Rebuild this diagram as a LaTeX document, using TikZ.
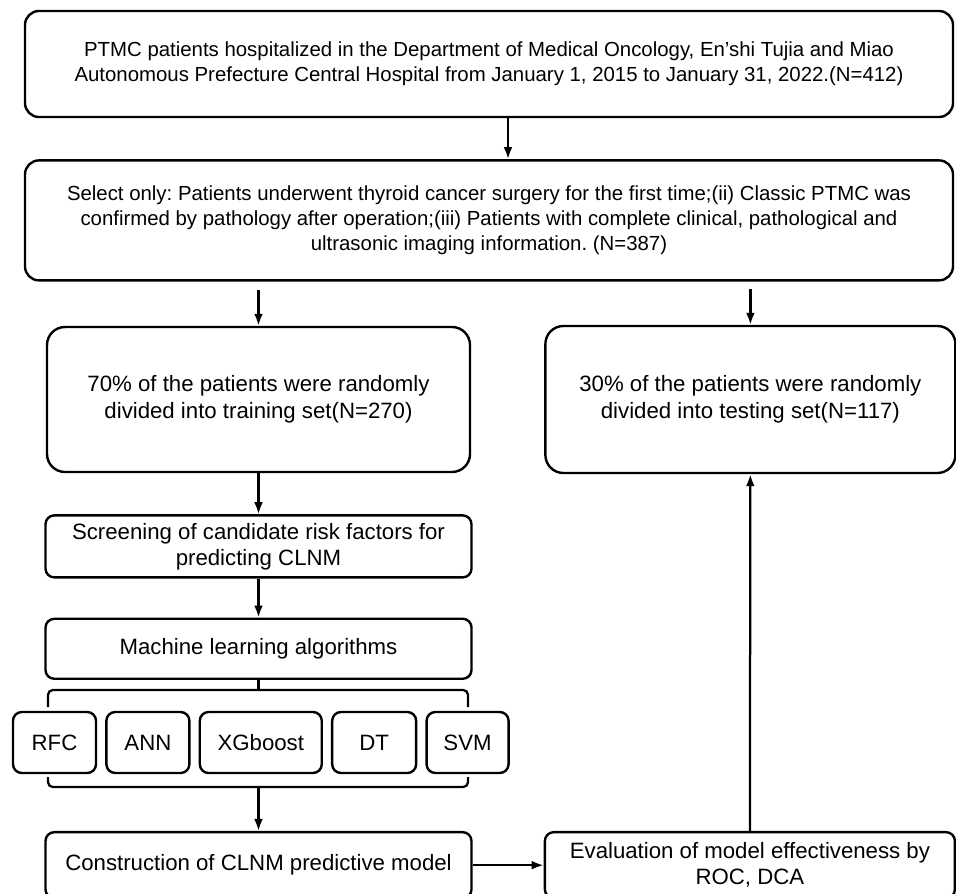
\documentclass[tikz,border=0pt]{standalone}
\usepackage{fontspec}
\setmainfont{Liberation Sans}
\usetikzlibrary{arrows.meta,positioning}
\tikzstyle{block} = [draw,line width=1.7pt,rounded corners=0.35cm,align=center,inner sep=0,font=\fontsize{14.5}{17.8}\selectfont]
\tikzstyle{half} = [block,rounded corners=0.45cm,font=\fontsize{15.8}{19}\selectfont]
\tikzstyle{stage} = [block,rounded corners=0.22cm,minimum width=10.65cm,font=\fontsize{15.8}{18.5}\selectfont]
\tikzstyle{algo} = [stage,minimum width=2.075cm,minimum height=1.525cm]
\tikzstyle{link} = [line width=1.6pt,-{Latex[length=0.3cm,width=0.22cm]}]
\tikzstyle{brace} = [line width=1.6pt,rounded corners=0.12cm]
\def \tu {0.2cm}
\frenchspacing

\begin{document}
\begin{tikzpicture}[node distance=\tu]
  \useasboundingbox (0,0) rectangle (23.9,-22.35);
  \node[block,minimum width=23.2cm,minimum height=2.65cm] (pop) at (12.225,-1.6) {PTMC patients hospitalized in the Department of Medical Oncology, En’shi Tujia and Miao\\Autonomous Prefecture Central Hospital from January 1, 2015 to January 31, 2022.(N=412)};
  \node[block,minimum width=23.2cm,minimum height=3cm,below=1.025cm of pop] (sel) {Select only: Patients underwent thyroid cancer surgery for the first time;(ii) Classic PTMC was\\confirmed by pathology after operation;(iii) Patients with complete clinical, pathological and\\ultrasonic imaging information. (N=387)};
  \node[half,minimum width=10.575cm,minimum height=3.625cm] (train) at (6.4625,-9.9875) {70\% of the patients were randomly\\divided into training set(N=270)};
  \node[half,minimum width=10.25cm,minimum height=3.675cm,right=1.825cm of train] (test) {30\% of the patients were randomly\\divided into testing set(N=117)};
  \node[stage,minimum height=1.55cm,below=1.025cm of train] (screen) {Screening of candidate risk factors for\\predicting CLNM};
  \node[stage,minimum height=1.5cm,below=0.975cm of screen] (ml) {Machine learning algorithms};
  \node[algo] (rfc) at (1.3625,-18.5625) {RFC};
  \node[algo,right=of rfc] (ann) {ANN};
  \node[algo,right=of ann,minimum width=3.05cm] (xgb) {XGboost};
  \node[algo,right=of xgb,minimum width=2.1cm] (dt) {DT};
  \node[algo,right=of dt,minimum width=2.05cm] (svm) {SVM};
  \node[stage,minimum height=1.65cm,below=3.775cm of ml] (cons) {Construction of CLNM predictive model};
  \node[stage,minimum width=10.25cm,minimum height=1.65cm,right=1.775cm of cons] (eval) {Evaluation of model effectiveness by\\ROC, DCA};
  \coordinate (top) at (6.4625,-17.25);
  \coordinate (bot) at (6.4625,-19.675);
  \draw[brace] (1.2,-17.675) |- (11.7,-17.25) -- (11.7,-17.675);
  \draw[brace] (1.2,-19.425) |- (11.7,-19.675) -- (11.7,-19.425);
  \draw[link] ([xshift=0.475cm]pop.south) -- ([xshift=0.475cm]sel.north);
  \draw[link,shorten <=0.22cm] (sel.south -| train) -- (train);
  \draw[link,shorten <=0.18cm] (sel.south -| test) -- (test);
  \draw[link] (train) -- (screen);
  \draw[link] (screen) -- (ml);
  \draw[line width=1.6pt] (ml) -- (top);
  \draw[link] (bot) -- (cons);
  \draw[link] (cons) -- (eval);
  \draw[link] (eval) -- (test);
\end{tikzpicture}
\end{document}
